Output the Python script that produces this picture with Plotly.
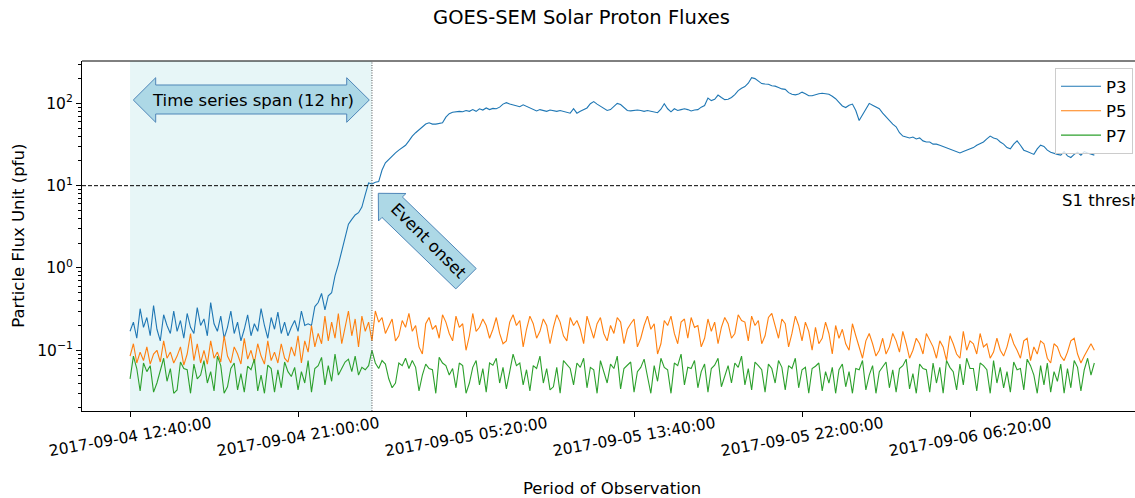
import pandas as pd
import plotly.graph_objects as go

# 10-minute samples, 2017-09-04 12:40 -> 2017-09-06 12:30
times = pd.date_range("2017-09-04 12:40", periods=288, freq="10min")

p3 = [
    0.17, 0.22, 0.14, 0.32, 0.19, 0.25, 0.15, 0.35, 0.18, 0.13, 0.27, 0.2,
    0.16, 0.3, 0.17, 0.23, 0.14, 0.28, 0.19, 0.16, 0.33, 0.2, 0.24, 0.15,
    0.38, 0.21, 0.17, 0.26, 0.14, 0.19, 0.3, 0.16, 0.22, 0.13, 0.18, 0.27,
    0.15, 0.21, 0.17, 0.32, 0.2, 0.14, 0.25, 0.18, 0.29, 0.16, 0.22, 0.15,
    0.19, 0.23, 0.17, 0.3, 0.2, 0.21, 0.2, 0.34,
    0.38, 0.49, 0.31, 0.46, 0.5, 0.8, 1.1, 1.6, 2.4, 3.4, 3.9, 4.4, 4.7, 5.5, 7.8, 10.8,
    10.5, 11, 11.2, 15.5, 19, 21, 23, 25, 27, 29, 31, 35,
    40, 44, 48, 52, 56, 58, 56, 56, 57, 58, 68, 75,
    78, 79, 80, 79, 82, 80, 84, 80, 86, 83, 88, 84,
    87, 86, 90, 98, 102, 98, 96, 94, 91, 96, 92, 87,
    84, 81, 84, 82, 80, 83, 81, 80, 82, 80, 79, 76,
    86, 76, 80, 84, 88, 99, 105, 98, 92, 86, 82, 84,
    93, 100, 97, 88, 82, 81, 82, 83, 82, 80, 82, 80,
    78, 77, 85, 99, 86, 79, 86, 82, 84, 86, 84, 81,
    83, 84, 90, 94, 116, 108, 112, 126, 118, 111, 112, 118,
    128, 143, 153, 160, 176, 205, 200, 188, 174, 172, 171, 164,
    162, 156, 150, 148, 135, 129, 127, 130, 137, 131, 124, 124,
    128, 131, 133, 132, 129, 122, 114, 103, 93, 89, 95, 98,
    82, 62, 72, 86, 100, 95, 90, 86, 76, 68, 61, 56,
    52, 44, 40, 39, 38, 39, 37, 38, 35, 34, 34, 32,
    32, 31, 30, 29, 28, 27, 26, 25, 26, 27, 28.5, 29,
    31, 32.5, 34, 37, 40, 38, 37, 34, 32, 29, 28, 32,
    35, 31, 27, 26, 25, 24, 28, 31, 30, 27, 25.5, 25,
    24, 23.5, 26, 23, 22, 24, 25.5, 23.5, 26, 25, 24, 23.5,
]

p5 = [
    0.085, 0.12, 0.07, 0.095, 0.075, 0.11, 0.068, 0.09, 0.1, 0.072, 0.13, 0.08,
    0.095, 0.07, 0.085, 0.11, 0.066, 0.09, 0.16, 0.075, 0.12, 0.07, 0.1, 0.068,
    0.13, 0.08, 0.095, 0.072, 0.15, 0.085, 0.07, 0.11, 0.09, 0.068, 0.14, 0.078,
    0.1, 0.07, 0.12, 0.085, 0.068, 0.13, 0.075, 0.095, 0.07, 0.12, 0.08, 0.072,
    0.11, 0.085, 0.15, 0.07, 0.13, 0.095, 0.2, 0.11, 0.16, 0.12, 0.26, 0.13,
    0.22, 0.14, 0.28, 0.12, 0.19, 0.3, 0.15, 0.24, 0.11, 0.26, 0.17, 0.22,
    0.13, 0.3, 0.22, 0.25, 0.16, 0.2, 0.24, 0.13, 0.15, 0.23, 0.19, 0.28,
    0.17, 0.2, 0.11, 0.09, 0.21, 0.25, 0.18, 0.2, 0.14, 0.27, 0.22, 0.16,
    0.13, 0.26, 0.19, 0.21, 0.1, 0.15, 0.28, 0.17, 0.19, 0.24, 0.2, 0.14,
    0.18, 0.25, 0.16, 0.12, 0.13, 0.22, 0.27, 0.2, 0.23, 0.11, 0.18, 0.26,
    0.21, 0.14, 0.17, 0.24, 0.2, 0.12, 0.19, 0.27, 0.22, 0.15, 0.13, 0.25,
    0.2, 0.23, 0.18, 0.12, 0.26, 0.19, 0.14, 0.21, 0.25, 0.16, 0.13, 0.2,
    0.16, 0.25, 0.22, 0.12, 0.18, 0.21, 0.24, 0.11, 0.14, 0.2, 0.26, 0.18,
    0.21, 0.09, 0.12, 0.23, 0.2, 0.26, 0.16, 0.12, 0.22, 0.24, 0.14, 0.25,
    0.19, 0.2, 0.11, 0.14, 0.24, 0.17, 0.22, 0.12, 0.19, 0.25, 0.21, 0.14,
    0.16, 0.27, 0.23, 0.22, 0.13, 0.26, 0.2, 0.23, 0.12, 0.15, 0.25, 0.28,
    0.19, 0.14, 0.24, 0.21, 0.11, 0.16, 0.26, 0.2, 0.13, 0.22, 0.17, 0.1,
    0.19, 0.12, 0.14, 0.22, 0.16, 0.09, 0.2, 0.14, 0.18, 0.12, 0.1, 0.21,
    0.15, 0.11, 0.08, 0.13, 0.16, 0.12, 0.085, 0.1, 0.14, 0.09, 0.11, 0.16,
    0.13, 0.095, 0.17, 0.12, 0.08, 0.1, 0.14, 0.12, 0.09, 0.16, 0.13, 0.11,
    0.08, 0.13, 0.11, 0.075, 0.15, 0.12, 0.09, 0.08, 0.17, 0.1, 0.13, 0.12,
    0.09, 0.16, 0.11, 0.12, 0.08, 0.095, 0.14, 0.1, 0.085, 0.11, 0.16, 0.12,
    0.1, 0.08, 0.13, 0.14, 0.075, 0.11, 0.09, 0.13, 0.12, 0.08, 0.07, 0.12,
    0.11, 0.085, 0.075, 0.095, 0.13, 0.14, 0.09, 0.07, 0.085, 0.1, 0.12, 0.1,
]

p7 = [
    0.045, 0.085, 0.06, 0.032, 0.07, 0.055, 0.065, 0.031, 0.04, 0.058, 0.08, 0.042,
    0.06, 0.03, 0.033, 0.072, 0.06, 0.058, 0.03, 0.068, 0.045, 0.05, 0.075, 0.04,
    0.055, 0.032, 0.085, 0.065, 0.03, 0.036, 0.06, 0.07, 0.033, 0.052, 0.031, 0.064,
    0.058, 0.078, 0.032, 0.05, 0.03, 0.066, 0.06, 0.031, 0.058, 0.035, 0.072, 0.055,
    0.048, 0.062, 0.033, 0.055, 0.04, 0.075, 0.031, 0.06, 0.065, 0.082, 0.038, 0.065,
    0.042, 0.09, 0.05, 0.06, 0.072, 0.078, 0.055, 0.085, 0.05, 0.062, 0.058, 0.065,
    0.1, 0.07, 0.06, 0.075, 0.068, 0.045, 0.035, 0.04, 0.07, 0.065, 0.08, 0.06,
    0.075, 0.062, 0.032, 0.05, 0.068, 0.06, 0.058, 0.03, 0.082, 0.07, 0.065, 0.05,
    0.06, 0.035, 0.07, 0.065, 0.03, 0.04, 0.062, 0.075, 0.038, 0.06, 0.031, 0.07,
    0.066, 0.08, 0.04, 0.062, 0.034, 0.055, 0.09, 0.065, 0.07, 0.038, 0.058, 0.032,
    0.065, 0.06, 0.085, 0.04, 0.06, 0.033, 0.036, 0.062, 0.03, 0.075, 0.068, 0.06,
    0.038, 0.07, 0.062, 0.08, 0.035, 0.062, 0.058, 0.03, 0.075, 0.055, 0.04, 0.068,
    0.06, 0.085, 0.034, 0.06, 0.065, 0.072, 0.031, 0.055, 0.062, 0.078, 0.048, 0.03,
    0.065, 0.042, 0.08, 0.062, 0.058, 0.03, 0.07, 0.065, 0.09, 0.038, 0.062, 0.06,
    0.075, 0.035, 0.055, 0.068, 0.031, 0.06, 0.066, 0.08, 0.036, 0.05, 0.065, 0.04,
    0.07, 0.062, 0.085, 0.038, 0.06, 0.033, 0.072, 0.065, 0.058, 0.031, 0.068, 0.06,
    0.04, 0.075, 0.062, 0.033, 0.065, 0.06, 0.08, 0.035, 0.058, 0.062, 0.03, 0.06,
    0.064, 0.07, 0.032, 0.055, 0.04, 0.062, 0.03, 0.058, 0.068, 0.036, 0.055, 0.03,
    0.06, 0.058, 0.075, 0.033, 0.05, 0.065, 0.03, 0.055, 0.062, 0.072, 0.035, 0.058,
    0.031, 0.06, 0.065, 0.078, 0.034, 0.052, 0.03, 0.068, 0.06, 0.058, 0.031, 0.07,
    0.04, 0.062, 0.03, 0.075, 0.062, 0.055, 0.033, 0.068, 0.038, 0.08, 0.06, 0.06,
    0.032, 0.07, 0.065, 0.058, 0.03, 0.075, 0.04, 0.062, 0.035, 0.055, 0.031, 0.072,
    0.058, 0.06, 0.033, 0.078, 0.065, 0.05, 0.03, 0.065, 0.038, 0.07, 0.031, 0.055,
    0.042, 0.068, 0.03, 0.06, 0.035, 0.075, 0.062, 0.032, 0.058, 0.08, 0.05, 0.07,
]

tick_times = ["2017-09-04 12:40:00", "2017-09-04 21:00:00", "2017-09-05 05:20:00",
              "2017-09-05 13:40:00", "2017-09-05 22:00:00", "2017-09-06 06:20:00"]
y_tickvals = [0.1, 1, 10, 100]
y_ticktext = ["10<sup>\u22121</sup>", "10<sup>0</sup>", "10<sup>1</sup>", "10<sup>2</sup>"]
span_start = "2017-09-04 12:40:00"
onset_time = "2017-09-05 00:40:00"
s1_threshold = 10

# figure geometry (pixels)
W, H = 1135, 498
L, T, PW, PH = 82, 61, 1053, 350
FONT = "DejaVu Sans"


def paper(x, y):
    return (x - L) / PW, (T + PH - y) / PH


def poly_path(pts):
    conv = [paper(x, y) for x, y in pts]
    return "M " + " L ".join(f"{a:.5f},{b:.5f}" for a, b in conv) + " Z"


fig = go.Figure()
for name, vals, color in [("P3", p3, "#1f77b4"), ("P5", p5, "#ff7f0e"), ("P7", p7, "#2ca02c")]:
    fig.add_trace(go.Scatter(x=times, y=vals, mode="lines", name=name, legendgroup=name,
                             line=dict(color=color, width=1.1)))

# shaded 12 hr window and onset marker
fig.add_shape(type="rect", xref="x", yref="paper", x0=span_start, x1=onset_time, y0=0, y1=1,
              fillcolor="rgba(176,224,230,0.3)", line_width=0, layer="below")
fig.add_shape(type="line", xref="x", yref="paper", x0=onset_time, x1=onset_time, y0=0, y1=1,
              line=dict(color="#555555", width=1, dash="1px,1.5px"))
fig.add_shape(type="line", xref="paper", yref="y", x0=0, x1=1, y0=s1_threshold, y1=s1_threshold,
              line=dict(color="black", width=1, dash="4px,2px"))
# top spine
fig.add_shape(type="line", xref="paper", yref="paper", x0=0, x1=1, y0=1, y1=1,
              line=dict(color="black", width=1))

# double arrow box
darrow = [(133.3, 100), (155.7, 77.7), (155.7, 85), (346.7, 85), (346.7, 77.7), (369.3, 100),
          (346.7, 122.3), (346.7, 114), (155.7, 114), (155.7, 122.3)]
fig.add_shape(type="path", xref="paper", yref="paper", path=poly_path(darrow),
              fillcolor="#add8e6", line=dict(color="#4f86b8", width=1))
# event onset arrow (pointing up-left)
rarrow = [(378.3, 193.3), (406.0, 193.5), (402.4, 197.0), (476.2, 268.5), (455.8, 288.9),
          (382.0, 217.4), (378.5, 221.0)]
fig.add_shape(type="path", xref="paper", yref="paper", path=poly_path(rarrow),
              fillcolor="#add8e6", line=dict(color="#4f86b8", width=1))

annos = []
x, y = paper(252.7, 100)
annos.append(dict(x=x, y=y, text="Time series span (12 hr)", textangle=0))
x, y = paper(428, 241)
annos.append(dict(x=x, y=y, text="Event onset", textangle=45))
for a in annos:
    fig.add_annotation(xref="paper", yref="paper", showarrow=False, xanchor="center",
                       yanchor="middle", font=dict(family=FONT, size=16.5, color="black"), **a)

x, y = paper(1060, 200)
fig.add_annotation(xref="paper", yref="paper", x=x, y=y, text="S1 threshold", showarrow=False,
                   xanchor="left", yanchor="middle", font=dict(family=FONT, size=16.5, color="black"))

# x tick labels (centred, rotated like the original)
_, ty = paper(0, 437)
for t in tick_times:
    fig.add_annotation(xref="x", yref="paper", x=t, y=ty, text=t, showarrow=False, textangle=-10,
                       xanchor="center", yanchor="middle", font=dict(family=FONT, size=15.5, color="black"))

# axis titles
x, y = paper(612, 488)
fig.add_annotation(xref="paper", yref="paper", x=x, y=y, text="Period of Observation", showarrow=False,
                   xanchor="center", yanchor="middle", font=dict(family=FONT, size=16.5, color="black"))
x, y = paper(18.3, 235.5)
fig.add_annotation(xref="paper", yref="paper", x=x, y=y, text="Particle Flux Unit (pfu)", showarrow=False,
                   textangle=-90, xanchor="center", yanchor="middle",
                   font=dict(family=FONT, size=16.5, color="black"))

fig.update_layout(
    width=W, height=H,
    margin=dict(l=L, r=W - L - PW, t=T, b=H - T - PH),
    paper_bgcolor="white", plot_bgcolor="white",
    font=dict(family=FONT, size=15.5, color="black"),
    title=dict(text="GOES-SEM Solar Proton Fluxes", x=581.5 / W, xref="container", xanchor="center",
               y=1 - 17 / H, yref="container", yanchor="middle", font=dict(family=FONT, size=19.5)),
    legend=dict(x=paper(1133, 0)[0], y=paper(0, 68)[1], xanchor="right", yanchor="top",
                bgcolor="rgba(255,255,255,0.8)", bordercolor="#cccccc", borderwidth=1,
                font=dict(family=FONT, size=16.5), tracegroupgap=0, itemwidth=40),
    showlegend=True,
)
fig.update_xaxes(range=["2017-09-04 10:17", "2017-09-06 14:31"], tickvals=tick_times,
                 showticklabels=False, ticks="outside", ticklen=5, tickcolor="black",
                 showline=True, linecolor="black", linewidth=1, showgrid=False, zeroline=False)
fig.update_yaxes(type="log", range=[-1.738, 2.515], tickvals=y_tickvals, ticktext=y_ticktext,
                 ticks="outside", ticklen=5, tickcolor="black",
                 minor=dict(ticks="outside", ticklen=3, tickcolor="black", dtick="D1", showgrid=False),
                 showline=True, linecolor="black", linewidth=1, showgrid=False, zeroline=False,
                 tickfont=dict(family=FONT, size=15.5))

fig.write_html("out.html", config={"displayModeBar": False},
               post_script="document.body.style.margin='0';")
